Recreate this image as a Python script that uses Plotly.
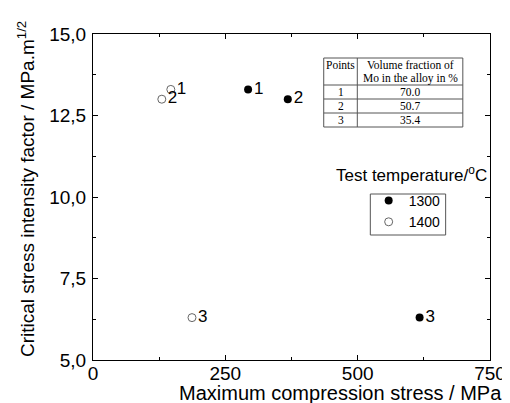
import plotly.graph_objects as go

# Data
t1300_x = [293, 368, 617]
t1300_y = [13.3, 13.0, 6.3]
t1400_x = [147, 130, 187]
t1400_y = [13.3, 13.0, 6.3]
point_labels = ["1", "2", "3"]

table_points = ["1", "2", "3"]
mo_fraction = ["70.0", "50.7", "35.4"]

x_ticks = [0, 250, 500, 750]
y_ticks = [5.0, 7.5, 10.0, 12.5, 15.0]

FONT = "Liberation Sans, Arial, sans-serif"
SERIF = "Liberation Serif, Times New Roman, serif"

fig = go.Figure()
fig.add_trace(go.Scatter(
    x=t1300_x, y=t1300_y, mode="markers+text", name="1300",
    text=point_labels, textposition="middle right",
    textfont=dict(size=17, color="black", family=FONT),
    marker=dict(symbol="circle", size=8, color="black"),
))
fig.add_trace(go.Scatter(
    x=t1400_x, y=t1400_y, mode="markers+text", name="1400",
    text=point_labels, textposition="middle right",
    textfont=dict(size=17, color="black", family=FONT),
    marker=dict(symbol="circle-open", size=8, color="#666666", line=dict(width=1)),
))

axis_common = dict(
    showline=True, linecolor="black", linewidth=1, mirror="ticks",
    ticks="inside", ticklen=5, tickcolor="black", showgrid=False, zeroline=False,
    tickfont=dict(size=19, family=FONT, color="black"),
)
fig.update_xaxes(range=[0, 750], tickvals=x_ticks, ticklabelstandoff=-4,
                 minor=dict(ticks="inside", ticklen=3, dtick=125, tickcolor="black", showgrid=False),
                 **axis_common)
fig.update_yaxes(range=[5, 15], tickvals=y_ticks, tickformat=".1f", ticklabelstandoff=2,
                 minor=dict(ticks="inside", ticklen=3, dtick=1.25, tickcolor="black", showgrid=False),
                 **axis_common)

W, H = 510, 403
L, R, T, B = 85, 16, 26, 51


def px(x):
    return (x - L) / (W - L - R)


def py(y):
    return (H - B - y) / (H - T - B)


annotations = [
    dict(text="Maximum compression stress / MPa", x=px(340), y=py(398), xref="paper", yref="paper",
         xanchor="center", yanchor="bottom", showarrow=False, font=dict(size=20, family=FONT, color="black")),
    dict(text="Critical stress intensity factor / MPa.m<sup>1/2</sup>", x=px(16), y=py(181),
         xref="paper", yref="paper", xanchor="center", yanchor="middle", textangle=-90,
         showarrow=False, font=dict(size=19, family=FONT, color="black")),
    dict(text="Test temperature/<sup>o</sup>C", x=px(413), y=py(179), xref="paper", yref="paper",
         xanchor="center", yanchor="bottom", showarrow=False, font=dict(size=17, family=FONT, color="black")),
]

# Legend frame
shapes = [dict(type="rect", xref="paper", yref="paper", x0=px(370.7), x1=px(448.3), y0=py(186), y1=py(227),
               line=dict(color="#555555", width=1), fillcolor="rgba(0,0,0,0)")]

# Table drawn with shapes and annotations
tx0, tx1, tx2 = px(322.7), px(357.3), px(466)
row_lines = [50, 77, 91, 105, 119]
for ry in row_lines:
    shapes.append(dict(type="line", xref="paper", yref="paper", x0=tx0, x1=tx2, y0=py(ry), y1=py(ry),
                       line=dict(color="#555555", width=1)))
for vx in (tx0, tx1, tx2):
    shapes.append(dict(type="line", xref="paper", yref="paper", x0=vx, x1=vx, y0=py(50), y1=py(119),
                       line=dict(color="#555555", width=1)))

tfont = dict(size=11.5, family=SERIF, color="black")
annotations.append(dict(text="Points", x=(tx0 + tx1) / 2, y=py(57), xref="paper", yref="paper",
                        showarrow=False, font=tfont, xanchor="center", yanchor="middle"))
annotations.append(dict(text="Volume fraction of", x=(tx1 + tx2) / 2, y=py(57), xref="paper", yref="paper",
                        showarrow=False, font=tfont, xanchor="center", yanchor="middle"))
annotations.append(dict(text="Mo in the alloy in %", x=(tx1 + tx2) / 2, y=py(70), xref="paper", yref="paper",
                        showarrow=False, font=tfont, xanchor="center", yanchor="middle"))
for i, (p, f) in enumerate(zip(table_points, mo_fraction)):
    yc = (row_lines[i + 1] + row_lines[i + 2]) / 2
    annotations.append(dict(text=p, x=(tx0 + tx1) / 2, y=py(yc), xref="paper", yref="paper",
                            showarrow=False, font=tfont, xanchor="center", yanchor="middle"))
    annotations.append(dict(text=f, x=(tx1 + tx2) / 2, y=py(yc), xref="paper", yref="paper",
                            showarrow=False, font=tfont, xanchor="center", yanchor="middle"))

fig.update_layout(
    width=W, height=H,
    margin=dict(l=L, r=R, t=T, b=B),
    plot_bgcolor="white", paper_bgcolor="white",
    separators=",.",
    showlegend=True,
    legend=dict(x=px(369), y=py(177), xanchor="left", yanchor="top",
                borderwidth=0, bgcolor="rgba(0,0,0,0)",
                font=dict(size=14, family=FONT, color="black"), tracegroupgap=0),
    annotations=annotations,
    shapes=shapes,
)

fig.write_html("out.html")
